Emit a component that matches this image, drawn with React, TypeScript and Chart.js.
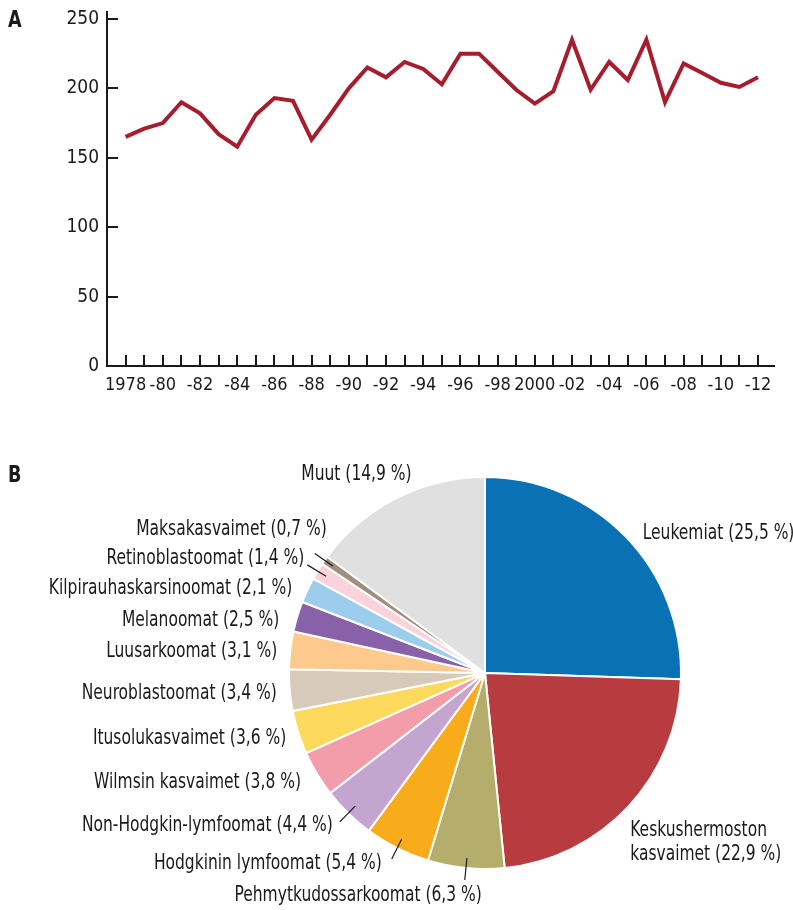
import React, { useEffect, useRef } from 'react';
import { Chart, registerables } from 'chart.js';

Chart.register(...registerables);

const FONT = '"Liberation Sans Narrow", "DejaVu Sans Condensed", "Arial Narrow", sans-serif';
const INK = '#1a1a1a';

// ---------- Data: panel A ----------
const years = [
  1978, 1979, 1980, 1981, 1982, 1983, 1984, 1985, 1986, 1987, 1988, 1989,
  1990, 1991, 1992, 1993, 1994, 1995, 1996, 1997, 1998, 1999, 2000, 2001,
  2002, 2003, 2004, 2005, 2006, 2007, 2008, 2009, 2010, 2011, 2012,
];
const caseCounts = [
  165, 171, 175, 190, 182, 167, 158, 181, 193, 191, 163, 181,
  200, 215, 208, 219, 214, 203, 225, 225, 212, 199, 189, 198,
  235, 199, 219, 206, 235, 190, 218, 211, 204, 201, 208,
];
const xTickLabels = [
  '1978', '', '-80', '', '-82', '', '-84', '', '-86', '', '-88', '', '-90', '', '-92', '', '-94', '',
  '-96', '', '-98', '', '2000', '', '-02', '', '-04', '', '-06', '', '-08', '', '-10', '', '-12',
];
const yTickValues = [0, 50, 100, 150, 200, 250];

// ---------- Data: panel B ----------
const pieLabels = [
  'Leukemiat (25,5 %)',
  'Keskushermoston\nkasvaimet (22,9 %)',
  'Pehmytkudossarkoomat (6,3 %)',
  'Hodgkinin lymfoomat (5,4 %)',
  'Non-Hodgkin-lymfoomat (4,4 %)',
  'Wilmsin kasvaimet (3,8 %)',
  'Itusolukasvaimet (3,6 %)',
  'Neuroblastoomat (3,4 %)',
  'Luusarkoomat (3,1 %)',
  'Melanoomat (2,5 %)',
  'Kilpirauhaskarsinoomat (2,1 %)',
  'Retinoblastoomat (1,4 %)',
  'Maksakasvaimet (0,7 %)',
  'Muut (14,9 %)',
];
const pieValues = [25.5, 22.9, 6.3, 5.4, 4.4, 3.8, 3.6, 3.4, 3.1, 2.5, 2.1, 1.4, 0.7, 14.9];
const pieColors = [
  '#0a71b5', '#b73b3f', '#b5ad6b', '#f8ab1b', '#c3a5cf', '#f39daa', '#fdd95e',
  '#d8cabb', '#fdc98c', '#8961a8', '#9ccdec', '#f9d2dc', '#a08e7e', '#e0e0e0',
];

// label layout (offsets from slice edge / leader end)
const labelLayout = [
  { align: 'left', dx: 17, dy: -3, leader: false },
  { align: 'left', dx: 2, dy: 24, leader: false },
  { align: 'right', dx: 17, dy: 16, leader: true },
  { align: 'right', dx: -10, dy: 5, leader: true },
  { align: 'right', dx: -7, dy: 4, leader: true },
  { align: 'right', dx: -16, dy: 9, leader: false },
  { align: 'right', dx: -12, dy: 6, leader: false },
  { align: 'right', dx: -13, dy: 3, leader: false },
  { align: 'right', dx: -13, dy: 1, leader: false },
  { align: 'right', dx: -18, dy: 4, leader: false },
  { align: 'right', dx: -15, dy: -2, leader: false },
  { align: 'right', dx: -3, dy: -6, leader: true },
  { align: 'right', dx: 12, dy: -24, leader: true },
  { align: 'right', dx: 15, dy: -24, leader: false },
];

const TEXT_SQUEEZE = 0.82;

const insideTicksPlugin = {
  id: 'insideTicks',
  afterDraw(chart: any) {
    const { ctx, chartArea } = chart;
    const xs = chart.scales.x;
    const ys = chart.scales.y;
    ctx.save();
    ctx.strokeStyle = INK;
    ctx.lineWidth = 2;
    ctx.beginPath();
    years.forEach((yr) => {
      const px = Math.round(xs.getPixelForValue(yr));
      ctx.moveTo(px, chartArea.bottom);
      ctx.lineTo(px, chartArea.bottom - 11);
    });
    yTickValues.forEach((v) => {
      if (v === 0) return;
      const py = Math.round(ys.getPixelForValue(v));
      ctx.moveTo(chartArea.left, py);
      ctx.lineTo(chartArea.left + 11, py);
    });
    ctx.stroke();
    ctx.restore();
  },
};

const pieLabelPlugin = {
  id: 'pieLabels',
  afterDatasetsDraw(chart: any) {
    const { ctx } = chart;
    const meta = chart.getDatasetMeta(0);
    ctx.save();
    ctx.font = `21px ${FONT}`;
    ctx.fillStyle = INK;
    ctx.strokeStyle = INK;
    ctx.lineWidth = 1.2;
    ctx.textBaseline = 'middle';
    meta.data.forEach((arc: any, i: number) => {
      const { x, y, startAngle, endAngle, outerRadius } = arc.getProps(
        ['x', 'y', 'startAngle', 'endAngle', 'outerRadius'],
        true
      );
      const mid = (startAngle + endAngle) / 2;
      const L = labelLayout[i];
      let ax: number;
      let ay: number;
      if (L.leader) {
        const x1 = x + Math.cos(mid) * (outerRadius - 10);
        const y1 = y + Math.sin(mid) * (outerRadius - 10);
        const x2 = x + Math.cos(mid) * (outerRadius + 12);
        const y2 = y + Math.sin(mid) * (outerRadius + 12);
        ctx.beginPath();
        ctx.moveTo(x1, y1);
        ctx.lineTo(x2, y2);
        ctx.stroke();
        ax = x2;
        ay = y2;
      } else {
        ax = x + Math.cos(mid) * outerRadius;
        ay = y + Math.sin(mid) * outerRadius;
      }
      ctx.textAlign = L.align as CanvasTextAlign;
      const lines = pieLabels[i].split('\n');
      lines.forEach((line, k) => {
        ctx.save();
        ctx.translate(ax + L.dx, ay + L.dy + k * 24);
        ctx.scale(TEXT_SQUEEZE, 1);
        ctx.fillText(line, 0, 0);
        ctx.restore();
      });
    });
    ctx.restore();
  },
};

export default function App() {
  const lineRef = useRef<HTMLCanvasElement | null>(null);
  const pieRef = useRef<HTMLCanvasElement | null>(null);

  useEffect(() => {
    Chart.defaults.font.family = FONT;
    Chart.defaults.color = INK;

    const lineChart = new Chart(lineRef.current as HTMLCanvasElement, {
      type: 'line',
      data: {
        datasets: [
          {
            data: years.map((yr, i) => ({ x: yr, y: caseCounts[i] })),
            borderColor: '#a61e2e',
            borderWidth: 4,
            pointRadius: 0,
            tension: 0,
            fill: false,
          },
        ],
      },
      options: {
        animation: false,
        responsive: false,
        devicePixelRatio: 1,
        layout: { padding: { top: 12, right: 19, left: 0, bottom: 0 } },
        plugins: { legend: { display: false }, tooltip: { enabled: false } },
        scales: {
          x: {
            type: 'linear',
            min: 1977,
            max: 2012.86,
            grid: { display: false, drawTicks: false },
            border: { display: true, color: INK, width: 2 },
            afterBuildTicks: (scale: any) => {
              scale.ticks = years.map((v) => ({ value: v }));
            },
            afterFit: (scale: any) => {
              scale.height = 34;
              scale.paddingLeft = 0;
              scale.paddingRight = 0;
            },
            ticks: {
              autoSkip: false,
              maxRotation: 0,
              padding: 9,
              font: { size: 18 },
              color: INK,
              callback: (value: any) => {
                const idx = years.indexOf(Number(value));
                return idx >= 0 ? xTickLabels[idx] : '';
              },
            },
          },
          y: {
            min: 0,
            max: 255,
            grid: { display: false, drawTicks: false },
            border: { display: true, color: INK, width: 2 },
            afterBuildTicks: (scale: any) => {
              scale.ticks = yTickValues.map((v) => ({ value: v }));
            },
            afterFit: (scale: any) => {
              scale.width = 107;
              scale.paddingTop = 0;
              scale.paddingBottom = 0;
            },
            ticks: {
              padding: 8,
              font: { size: 19 },
              color: INK,
              callback: (value: any) => String(value),
            },
          },
        },
      },
      plugins: [insideTicksPlugin],
    } as any);

    const pieChart = new Chart(pieRef.current as HTMLCanvasElement, {
      type: 'pie',
      data: {
        labels: pieLabels,
        datasets: [
          {
            data: pieValues,
            backgroundColor: pieColors,
            borderColor: '#ffffff',
            borderWidth: 2,
            radius: 196,
          },
        ],
      },
      options: {
        animation: false,
        responsive: false,
        devicePixelRatio: 1,
        layout: { padding: { top: 36, left: 177, right: 0, bottom: 0 } },
        plugins: { legend: { display: false }, tooltip: { enabled: false } },
      },
      plugins: [pieLabelPlugin],
    } as any);

    return () => {
      lineChart.destroy();
      pieChart.destroy();
    };
  }, []);

  const panelLetter: React.CSSProperties = {
    position: 'absolute',
    left: 8,
    fontFamily: FONT,
    fontWeight: 'bold',
    fontSize: 23,
    lineHeight: '23px',
    color: INK,
    transform: 'scaleX(0.85)',
    transformOrigin: 'left top',
  };

  return (
    <div style={{ position: 'absolute', left: 0, top: 0, width: 793, height: 910, background: '#ffffff', overflow: 'hidden' }}>
      <canvas ref={lineRef} width={793} height={400} style={{ position: 'absolute', left: 0, top: 0, width: 793, height: 400 }} />
      <canvas ref={pieRef} width={793} height={510} style={{ position: 'absolute', left: 0, top: 400, width: 793, height: 510 }} />
      <div style={{ ...panelLetter, top: 8 }}>A</div>
      <div style={{ ...panelLetter, top: 463 }}>B</div>
    </div>
  );
}
